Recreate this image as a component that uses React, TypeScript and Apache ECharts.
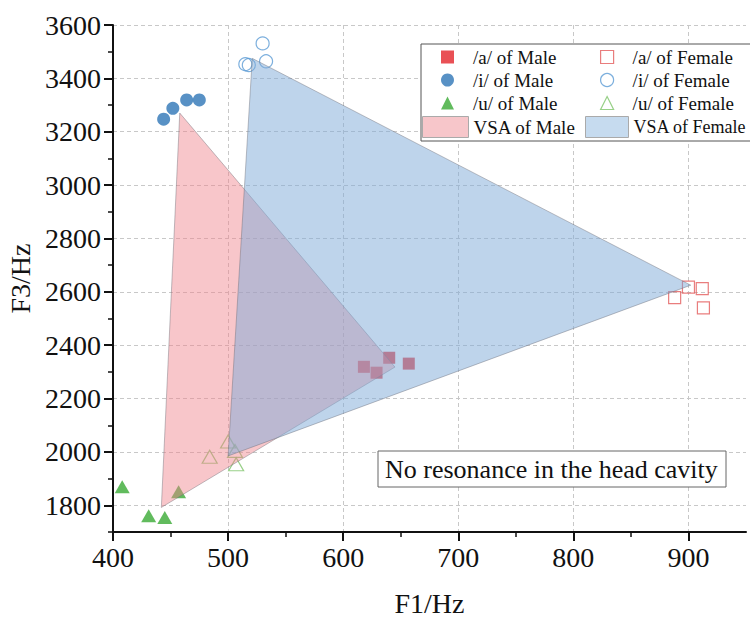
import React, { useEffect, useRef } from "react";
import * as echarts from "echarts";

const FONT = "'Times New Roman', 'Liberation Serif', serif";

const maleA: number[][] = [[618, 2319], [629, 2297], [640, 2353], [657, 2331]];
const maleI: number[][] = [[444, 3247], [452, 3288], [464, 3319], [475, 3319]];
const maleU: number[][] = [[408, 1870], [431, 1761], [445, 1754], [457, 1851]];
const femaleA: number[][] = [[888, 2578], [900, 2618], [912, 2612], [913, 2540]];
const femaleI: number[][] = [[515, 3453], [518, 3450], [530, 3531], [533, 3464]];
const femaleU: number[][] = [[484, 1982], [500, 2039], [506, 2004], [507, 1954]];
const maleVSA: number[][] = [[458, 3270], [645, 2318], [442, 1792]];
const femaleVSA: number[][] = [[521, 3475], [902, 2625], [500, 1985]];

const xMajor = [400, 500, 600, 700, 800, 900];
const xMinor = [450, 550, 650, 750, 850];
const yMajor = [1800, 2000, 2200, 2400, 2600, 2800, 3000, 3200, 3400, 3600];
const yMinor = [1700, 1900, 2100, 2300, 2500, 2700, 2900, 3100, 3300, 3500];

const C_MA = "#e3242b";
const C_MI = "#2e75b6";
const C_MU = "#3aaa35";
const C_FA = "#e35d5d";
const C_FI = "#5b9bd5";
const C_FU = "#7ec46a";
const PINK = "rgba(240,128,138,0.45)";
const BLUE = "rgba(125,170,215,0.5)";

function polySeries(name: string, pts: number[][], fill: string, z: number) {
  return {
    type: "custom",
    name,
    data: pts,
    z,
    itemStyle: { color: fill },
    encode: { x: 0, y: 1 },
    renderItem: (params: any, api: any) => {
      if (params.dataIndex !== 0) return null;
      const points = pts.map((p) => api.coord(p));
      return {
        type: "polygon",
        shape: { points },
        style: { fill, stroke: "rgba(110,110,120,0.55)", lineWidth: 0.8 },
      };
    },
  };
}

export default function App() {
  const ref = useRef<HTMLDivElement>(null);
  useEffect(() => {
    document.body.style.margin = "0";
    const chart = echarts.init(ref.current!, null, { renderer: "svg" });
    const splitLine = { show: true, lineStyle: { color: "#c8c8c8", type: [4, 3], width: 1 } };
    const axisLine = { show: true, lineStyle: { color: "#111", width: 2 } };
    const legendText = { fontFamily: FONT, fontSize: 19, color: "#111", lineHeight: 20 };
    const markerText = { ...legendText, padding: [0, 0, 0, 14] };
    const plain = (v: number) => String(v);
    const option: any = {
      animation: false,
      grid: { left: 113, right: 4, top: 25, bottom: 85, containLabel: false, outerBoundsMode: "none" },
      xAxis: [
        {
          type: "value", min: 400, max: 950, interval: 50,
          name: "F1/Hz", nameLocation: "middle", nameGap: 57,
          nameTextStyle: { fontFamily: FONT, fontSize: 28, color: "#111" },
          axisLine, splitLine,
          axisTick: { show: true, customValues: xMajor, length: 9, inside: false, lineStyle: { color: "#111", width: 2 } },
          axisLabel: { customValues: xMajor, formatter: plain, fontFamily: FONT, fontSize: 28, color: "#111", margin: 11 },
        },
        {
          type: "value", min: 400, max: 950, position: "bottom",
          axisLine: { show: false }, splitLine: { show: false },
          axisTick: { show: true, customValues: xMinor, length: 5, lineStyle: { color: "#111", width: 1.5 } },
          axisLabel: { show: false },
        },
      ],
      yAxis: [
        {
          type: "value", min: 1700, max: 3600, interval: 100,
          name: "F3/Hz", nameLocation: "middle", nameGap: 71,
          nameTextStyle: { fontFamily: FONT, fontSize: 28, color: "#111" },
          axisLine, splitLine,
          axisTick: { show: true, customValues: yMajor, length: 9, lineStyle: { color: "#111", width: 2 } },
          axisLabel: { customValues: yMajor, formatter: plain, fontFamily: FONT, fontSize: 28, color: "#111", margin: 12 },
        },
        {
          type: "value", min: 1700, max: 3600, position: "left",
          axisLine: { show: false }, splitLine: { show: false },
          axisTick: { show: true, customValues: yMinor, length: 5, lineStyle: { color: "#111", width: 1.5 } },
          axisLabel: { show: false },
        },
      ],
      legend: [
        {
          orient: "vertical", left: 441, top: 47, padding: 0, itemGap: 3,
          itemWidth: 13, itemHeight: 13, textStyle: markerText,
          data: [
            { name: "/a/ of Male", icon: "rect", itemStyle: { color: C_MA, borderWidth: 0 } },
            { name: "/i/ of Male", icon: "circle", itemStyle: { color: C_MI, borderWidth: 0 } },
            { name: "/u/ of Male", icon: "triangle", itemStyle: { color: C_MU, borderWidth: 0 } },
          ],
        },
        {
          orient: "vertical", left: 600, top: 47, padding: 0, itemGap: 3,
          itemWidth: 13, itemHeight: 13, textStyle: markerText,
          data: [
            { name: "/a/ of Female", icon: "rect", itemStyle: { color: "#fff", borderColor: C_FA, borderWidth: 1.2 } },
            { name: "/i/ of Female", icon: "circle", itemStyle: { color: "#fff", borderColor: C_FI, borderWidth: 1.2 } },
            { name: "/u/ of Female", icon: "triangle", itemStyle: { color: "#fff", borderColor: C_FU, borderWidth: 1.2 } },
          ],
        },
        {
          orient: "vertical", left: 422, top: 116, padding: 0,
          itemWidth: 46, itemHeight: 21, textStyle: legendText,
          data: [{ name: "VSA of Male", icon: "rect", itemStyle: { color: "#f7c6ca", borderColor: "#aaa", borderWidth: 1 } }],
        },
        {
          orient: "vertical", left: 585, top: 116, padding: 0,
          itemWidth: 43, itemHeight: 21, textStyle: { ...legendText, fontSize: 18 },
          data: [{ name: "VSA of Female", icon: "rect", itemStyle: { color: "#c6dbef", borderColor: "#aaa", borderWidth: 1 } }],
        },
      ],
      graphic: [
        {
          type: "rect", z: 3, shape: { x: 421, y: 44, width: 340, height: 97 },
          style: { fill: "#fff", stroke: "#555", lineWidth: 1 },
        },
        {
          type: "rect", z: 5, shape: { x: 378, y: 451, width: 348, height: 36 },
          style: { fill: "#fff", stroke: "#666", lineWidth: 1 },
        },
        {
          type: "text", z: 6, x: 385, y: 469,
          style: {
            text: "No resonance in the head cavity", font: `26px ${FONT}`, fill: "#111",
            textAlign: "left", textVerticalAlign: "middle", verticalAlign: "middle",
          },
        },
      ],
      series: [
        { type: "scatter", name: "/a/ of Male", data: maleA, symbol: "rect", symbolSize: 12, itemStyle: { color: C_MA }, z: 2 },
        { type: "scatter", name: "/i/ of Male", data: maleI, symbol: "circle", symbolSize: 13, itemStyle: { color: C_MI }, z: 2 },
        { type: "scatter", name: "/u/ of Male", data: maleU, symbol: "triangle", symbolSize: [15, 13], itemStyle: { color: C_MU }, z: 2 },
        { type: "scatter", name: "/a/ of Female", data: femaleA, symbol: "rect", symbolSize: 12, itemStyle: { color: "rgba(0,0,0,0)", borderColor: C_FA, borderWidth: 1.2 }, z: 2 },
        { type: "scatter", name: "/i/ of Female", data: femaleI, symbol: "circle", symbolSize: 13, itemStyle: { color: "rgba(0,0,0,0)", borderColor: C_FI, borderWidth: 1.2 }, z: 2 },
        { type: "scatter", name: "/u/ of Female", data: femaleU, symbol: "triangle", symbolSize: [15, 13], itemStyle: { color: "rgba(0,0,0,0)", borderColor: C_FU, borderWidth: 1.2 }, z: 2 },
        polySeries("VSA of Male", maleVSA, PINK, 3),
        polySeries("VSA of Female", femaleVSA, BLUE, 3),
      ],
    };
    chart.setOption(option);
    return () => chart.dispose();
  }, []);
  return <div ref={ref} style={{ width: 750, height: 617 }} />;
}
